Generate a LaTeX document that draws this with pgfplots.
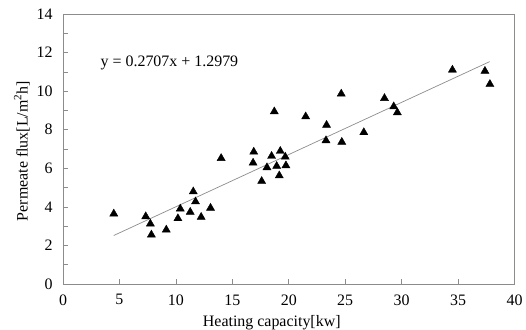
\documentclass[border=0pt]{standalone}
\usepackage{pgfplots}
\pgfplotsset{compat=1.18}
\usepackage{fontspec}
\setmainfont{Liberation Serif}
\begin{document}
\fontsize{16}{19}\selectfont
\begin{tikzpicture}
\begin{axis}[
  name=ax,
  scale only axis, width=451.5bp, height=270bp,
  xmin=0, xmax=40, ymin=0, ymax=14,
  xtick={0,5,...,40}, ytick={0,2,...,14}, minor ytick={1,3,...,13},
  tick align=inside, xtick pos=bottom, ytick pos=left,
  major tick length=5bp, minor tick length=5bp,
  axis line style={draw=gray!90, line width=0.8pt},
  every tick/.style={draw=gray!90, line width=0.7pt},
  /pgf/number format/assume math mode=true,
  tick label style={font=\fontsize{16}{19}\selectfont},
  xticklabel style={yshift=-5bp},
  yticklabel style={xshift=-5bp},
  label style={font=\fontsize{16}{19}\selectfont},
  xlabel={Heating capacity[kw]},
  ylabel={Permeate flux[L/m\textsuperscript{2}h]},
  xlabel style={xshift=-17bp, yshift=1bp},
  ylabel style={yshift=-4bp, xshift=-2bp},
  clip=false,
]
\addplot[only marks, mark=triangle*, mark size=4.7pt, color=black] coordinates {
(4.5,3.64) (7.33,3.5) (7.74,3.12) (7.83,2.55) (9.15,2.81) (10.18,3.4) (10.39,3.9)
(11.27,3.73) (11.54,4.79) (11.74,4.27) (12.24,3.47) (13.07,3.94) (14.01,6.52)
(16.9,6.85) (16.84,6.28) (17.6,5.33) (18.07,6.04) (18.48,6.63) (18.72,8.94)
(19.25,6.89) (18.93,6.11) (19.16,5.62) (19.69,6.59) (19.75,6.14)
(21.5,8.68) (23.35,8.24) (23.3,7.44) (24.65,9.86) (24.7,7.36) (26.65,7.86)
(28.48,9.63) (29.3,9.2) (29.62,8.89) (34.5,11.1) (37.38,11.04) (37.82,10.36)
};
\addplot[gray!90, line width=0.7pt] coordinates {(4.5,2.516) (37.8,11.530)};
\node[anchor=west, font=\fontsize{16}{19}\selectfont] at (axis cs:2.85,11.45) {y = 0.2707x + 1.2979};
\end{axis}
\pgfresetboundingbox
\path ([shift={(-63bp,-46bp)}]ax.south west) rectangle ([shift={(11.5bp,14bp)}]ax.north east);
\end{tikzpicture}
\end{document}
